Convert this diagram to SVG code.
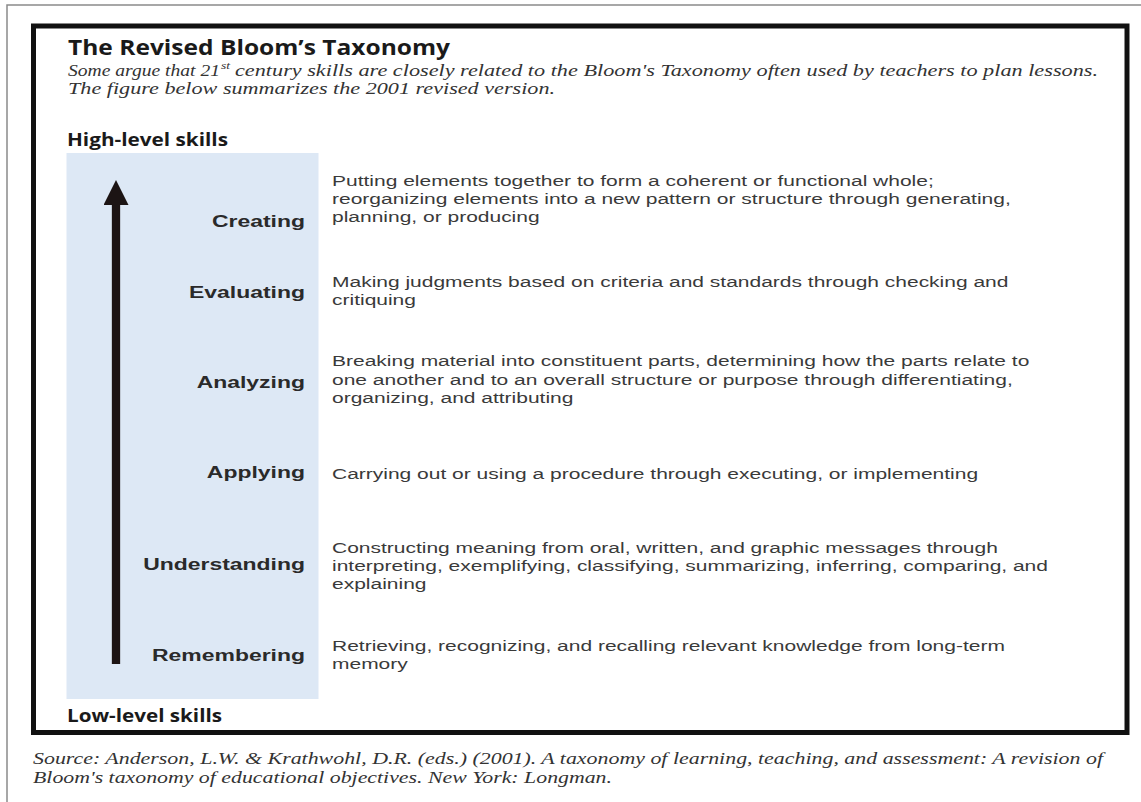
<svg xmlns="http://www.w3.org/2000/svg" width="1141" height="802" viewBox="0 0 1141 802">
<style>
.title{font-family:"Open Sans","Liberation Sans",sans-serif;font-weight:700;font-size:21px;fill:#1a1a1a}
.lvl{font-family:"Open Sans","Liberation Sans",sans-serif;font-weight:700;font-size:17px;fill:#1a1a1a}
.sub{font-family:"Liberation Serif",serif;font-style:italic;font-size:16.5px;fill:#333}
.sup{font-family:"Liberation Serif",serif;font-style:italic;font-size:10px;fill:#333}
.lbl{font-family:"Liberation Sans",Arial,sans-serif;font-weight:700;font-size:17px;fill:#2a2a2a;text-anchor:end}
.desc{font-family:"Liberation Sans",Arial,sans-serif;font-size:15.5px;fill:#3a3a3a}
</style>
<defs>
<marker id="head" viewBox="0 0 25 25" markerUnits="userSpaceOnUse" markerWidth="25" markerHeight="25" refX="0" refY="12.5" orient="auto">
<path d="M0,0 L25,12.5 L0,25 Z" fill="#1c1414"/>
</marker>
</defs>
<rect x="0" y="0" width="1141" height="802" fill="#fff"/>
<path d="M7,802 V5 H1141" fill="none" stroke="#8a8a8a" stroke-width="1.5"/>
<rect x="33.5" y="26" width="1093.5" height="706.5" fill="#fff" stroke="#111" stroke-width="5"/>
<g id="header">
<text class="title" x="68" y="55" textLength="382" lengthAdjust="spacingAndGlyphs">The Revised Bloom’s Taxonomy</text>
<text class="sub" x="68" y="76" textLength="152" lengthAdjust="spacingAndGlyphs">Some argue that 21</text>
<text class="sup" x="221" y="69" textLength="9" lengthAdjust="spacingAndGlyphs">st</text>
<text class="sub" x="235" y="76" textLength="863" lengthAdjust="spacingAndGlyphs">century skills are closely related to the Bloom's Taxonomy often used by teachers to plan lessons.</text>
<text class="sub" x="68" y="94" textLength="487" lengthAdjust="spacingAndGlyphs">The figure below summarizes the 2001 revised version.</text>
</g>
<g id="high-level">
<text class="lvl" x="67" y="146" textLength="161" lengthAdjust="spacingAndGlyphs">High-level skills</text>
</g>
<rect id="panel" x="66.5" y="153" width="252" height="546" fill="#dde8f5"/>
<g id="connectors">
<line x1="116" y1="664" x2="116" y2="205" stroke="#1c1414" stroke-width="8.3" marker-end="url(#head)"/>
</g>
<g id="creating">
<g transform="translate(305 0) scale(1.35 1)"><text class="lbl" x="0" y="227">Creating</text></g>
<g transform="translate(332 0) scale(1.355 1)">
<text class="desc" x="0" y="186">Putting elements together to form a coherent or functional whole;</text>
<text class="desc" x="0" y="204">reorganizing elements into a new pattern or structure through generating,</text>
<text class="desc" x="0" y="222">planning, or producing</text>
</g>
</g>
<g id="evaluating">
<g transform="translate(305 0) scale(1.35 1)"><text class="lbl" x="0" y="298">Evaluating</text></g>
<g transform="translate(332 0) scale(1.355 1)">
<text class="desc" x="0" y="287">Making judgments based on criteria and standards through checking and</text>
<text class="desc" x="0" y="305">critiquing</text>
</g>
</g>
<g id="analyzing">
<g transform="translate(305 0) scale(1.35 1)"><text class="lbl" x="0" y="388">Analyzing</text></g>
<g transform="translate(332 0) scale(1.355 1)">
<text class="desc" x="0" y="366">Breaking material into constituent parts, determining how the parts relate to</text>
<text class="desc" x="0" y="385">one another and to an overall structure or purpose through differentiating,</text>
<text class="desc" x="0" y="403">organizing, and attributing</text>
</g>
</g>
<g id="applying">
<g transform="translate(305 0) scale(1.35 1)"><text class="lbl" x="0" y="478">Applying</text></g>
<g transform="translate(332 0) scale(1.355 1)">
<text class="desc" x="0" y="479">Carrying out or using a procedure through executing, or implementing</text>
</g>
</g>
<g id="understanding">
<g transform="translate(305 0) scale(1.35 1)"><text class="lbl" x="0" y="570">Understanding</text></g>
<g transform="translate(332 0) scale(1.355 1)">
<text class="desc" x="0" y="553">Constructing meaning from oral, written, and graphic messages through</text>
<text class="desc" x="0" y="571">interpreting, exemplifying, classifying, summarizing, inferring, comparing, and</text>
<text class="desc" x="0" y="589">explaining</text>
</g>
</g>
<g id="remembering">
<g transform="translate(305 0) scale(1.35 1)"><text class="lbl" x="0" y="661">Remembering</text></g>
<g transform="translate(332 0) scale(1.355 1)">
<text class="desc" x="0" y="651">Retrieving, recognizing, and recalling relevant knowledge from long-term</text>
<text class="desc" x="0" y="669">memory</text>
</g>
</g>
<g id="low-level">
<text class="lvl" x="67" y="722" textLength="155" lengthAdjust="spacingAndGlyphs">Low-level skills</text>
</g>
<g id="source">
<text class="sub" x="33" y="764" textLength="1070" lengthAdjust="spacingAndGlyphs">Source: Anderson, L.W. &amp; Krathwohl, D.R. (eds.) (2001). A taxonomy of learning, teaching, and assessment: A revision of</text>
<text class="sub" x="33" y="783" textLength="579" lengthAdjust="spacingAndGlyphs">Bloom's taxonomy of educational objectives. New York: Longman.</text>
</g>
</svg>
